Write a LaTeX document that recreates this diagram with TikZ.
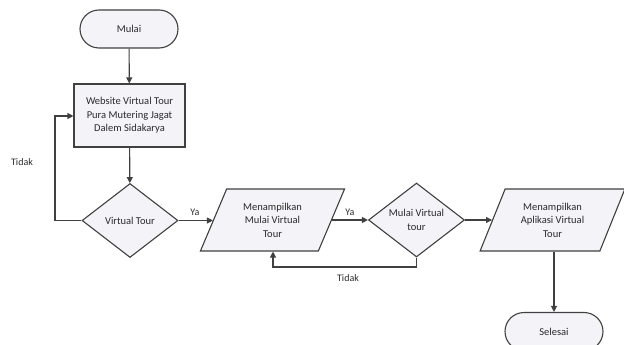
\documentclass[tikz,border=0pt]{standalone}
\usepackage{fontspec}
\setmainfont{Carlito}
\usetikzlibrary{shapes.geometric,arrows.meta}
\definecolor{ln}{HTML}{404040}
\definecolor{fl}{HTML}{F3F3F8}
\definecolor{tx}{HTML}{2A2A2A}
\tikzset{
  base/.style={draw=ln, line width=1.1pt, fill=fl, text=tx, font=\fontsize{10.5}{13.5}\selectfont, align=center},
  term/.style={base, rectangle, rounded corners=19pt, minimum width=98pt, minimum height=38pt},
  proc/.style={base, rectangle, minimum width=111pt, minimum height=63pt},
  dec/.style={base, diamond, aspect=1.3, inner sep=0pt, minimum width=96pt, minimum height=74pt},
  io/.style={base, trapezium, trapezium left angle=64, trapezium right angle=116, trapezium stretches=true, minimum width=145pt, minimum height=62pt, inner sep=0pt},
  arr/.style={draw=ln, line width=1.1pt, -{Triangle[length=6pt,width=6pt]}},
  lbl/.style={text=tx, font=\fontsize{10}{12}\selectfont}
}
\begin{document}
\begin{tikzpicture}[x=1pt,y=-1pt]
\useasboundingbox (0,0) rectangle (624,345);
\node[term] (mulai) at (129,29) {Mulai};
\node[proc] (web) at (129.5,115.5) {Website Virtual Tour\\Pura Mutering Jagat\\Dalem Sidakarya};
\node[dec] (vt) at (130,220.5) {Virtual Tour};
\node[io] (p1) at (272.5,220) {Menampilkan\\Mulai Virtual\\Tour};
\node[dec] (mvt) at (416.5,220) {Mulai Virtual\\tour};
\node[io] (p2) at (552.5,220) {Menampilkan\\Aplikasi Virtual\\Tour};
\node[term] (selesai) at (554,331.5) {Selesai};
\coordinate (c1) at (55,220.5);
\coordinate (c2) at (55,116);
\coordinate (c3) at (416.5,267);
\coordinate (c4) at (273,267);
\draw[arr] (mulai) -- (web);
\draw[arr] (web) -- (vt);
\draw[arr] (vt.west) -- (c1) -- (c2) -- (web.west |- c2);
\draw[arr] (vt.east) -- (p1.west |- vt.east);
\draw[arr] (p1.east |- mvt.west) -- (mvt.west);
\draw[arr] (mvt.south) -- (c3) -- (c4) -- (c4 |- p1.south);
\draw[arr] (mvt.east) -- (p2.west |- mvt.east);
\draw[arr] (p2.south -| selesai.north) -- (selesai.north);
\node[lbl] (t1) at (22,162) {Tidak};
\node[lbl] (y1) at (195,212) {Ya};
\node[lbl] (y2) at (350,212) {Ya};
\node[lbl] (t2) at (348,278) {Tidak};
\end{tikzpicture}
\end{document}
